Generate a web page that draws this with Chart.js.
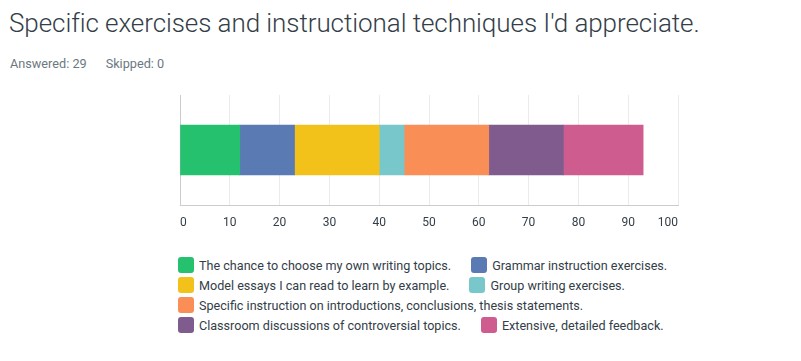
<!DOCTYPE html>
<html>
<head>
<meta charset="utf-8">
<script src="https://cdn.jsdelivr.net/npm/chart.js@4/dist/chart.umd.min.js"></script>
<style>
  html, body { margin: 0; padding: 0; background: #fff; }
  body { width: 801px; height: 361px; position: relative; overflow: hidden; font-family: Roboto, "Open Sans", sans-serif; }
  #title { position: absolute; left: 9px; top: 8px; font-size: 26px; font-weight: 300; color: #333e48; white-space: nowrap; letter-spacing: -0.07px; }
  #meta { position: absolute; left: 10px; top: 56px; font-size: 12.7px; color: #6b787f; white-space: nowrap; }
  #meta span + span { margin-left: 19px; }
  #wrap { position: absolute; left: 168px; top: 93px; width: 522px; height: 146px; }
  #legend { position: absolute; left: 178px; top: 257px; width: 512px; display: flex; flex-wrap: wrap; column-gap: 20px; row-gap: 4px; }
  .li { display: flex; align-items: center; height: 16px; font-size: 12.6px; color: #333e48; white-space: nowrap; }
  .sw { width: 16px; height: 16px; border-radius: 3px; margin-right: 5px; flex: none; }
</style>
</head>
<body>
<div id="title">Specific exercises and instructional techniques I'd appreciate.</div>
<div id="meta"><span>Answered: 29</span><span>Skipped: 0</span></div>
<div id="wrap"><canvas id="c"></canvas></div>
<div id="legend"></div>
<script>
const categories = [""];
const seriesNames = [
  "The chance to choose my own writing topics.",
  "Grammar instruction exercises.",
  "Model essays I can read to learn by example.",
  "Group writing exercises.",
  "Specific instruction on introductions, conclusions, thesis statements.",
  "Classroom discussions of controversial topics.",
  "Extensive, detailed feedback."
];
const seriesValues = [12, 11, 17, 5, 17, 15, 16];
const seriesColors = ["#25C16F", "#5A7AB4", "#F2C21B", "#78C8CB", "#F98E57", "#7F5B8E", "#CE5C8E"];
const tickValues = [0, 10, 20, 30, 40, 50, 60, 70, 80, 90, 100];

const datasets = seriesNames.map((name, i) => ({
  label: name,
  data: [seriesValues[i]],
  backgroundColor: seriesColors[i],
  borderWidth: 0,
  barThickness: 50
}));

const chart = new Chart(document.getElementById('c'), {
  type: 'bar',
  data: { labels: categories, datasets },
  options: {
    indexAxis: 'y',
    responsive: true,
    maintainAspectRatio: false,
    animation: false,
    layout: { padding: { left: 12, right: 12, top: 2, bottom: 10 } },
    plugins: { legend: { display: false }, tooltip: { enabled: false } },
    scales: {
      x: {
        stacked: true,
        min: 0, max: 100,
        afterBuildTicks: (s) => { s.ticks = tickValues.map(v => ({ value: v })); },
        afterFit: (s) => { s.height = 24; },
        grid: { color: '#ebebeb', drawTicks: false, lineWidth: 1 },
        border: { display: true, color: '#cccccc', width: 1 },
        ticks: { padding: 11, align: 'inner', color: '#333e48', font: { family: 'Roboto', size: 12 } }
      },
      y: {
        stacked: true,
        display: true,
        afterFit: (s) => { s.width = 0; },
        grid: { drawOnChartArea: false, drawTicks: false },
        border: { display: true, color: '#cccccc', width: 1 },
        ticks: { display: false }
      }
    }
  }
});

const legendEl = document.getElementById('legend');
chart.data.datasets.forEach(ds => {
  const li = document.createElement('div');
  li.className = 'li';
  const sw = document.createElement('span');
  sw.className = 'sw';
  sw.style.background = ds.backgroundColor;
  const tx = document.createElement('span');
  tx.textContent = ds.label;
  li.appendChild(sw); li.appendChild(tx);
  legendEl.appendChild(li);
});
</script>
</body>
</html>
